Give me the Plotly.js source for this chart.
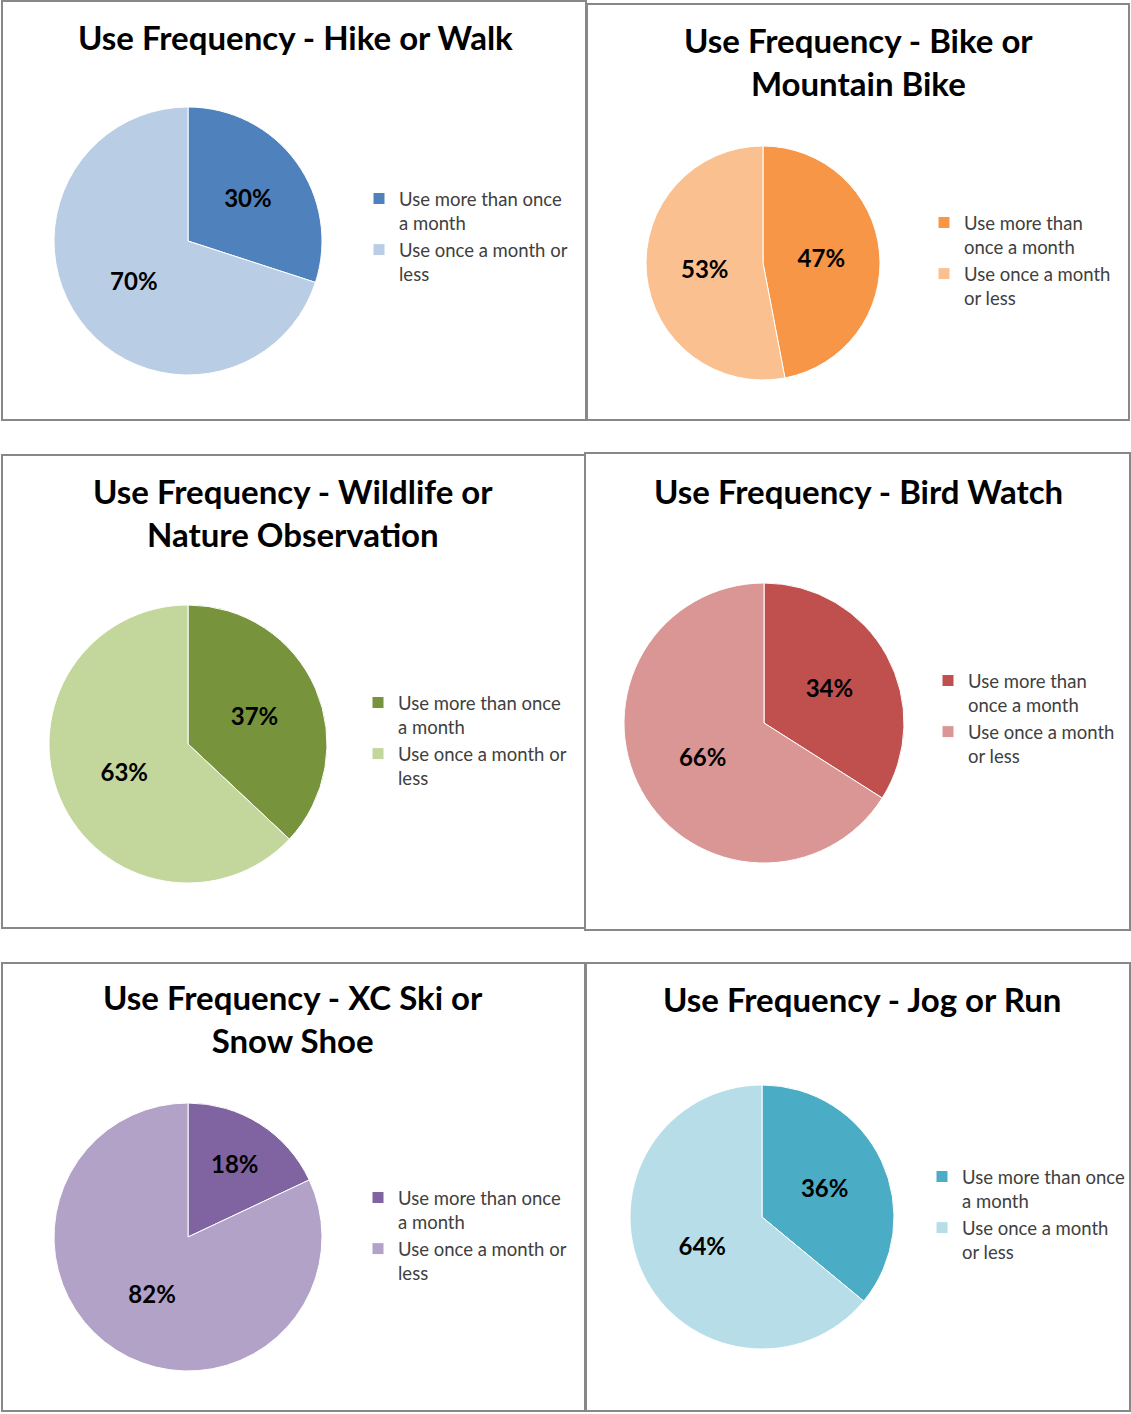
<!DOCTYPE html>
<html>
<head>
<meta charset="utf-8">
<script src="https://cdn.plot.ly/plotly-3.0.1.min.js"></script>
<style>
html,body{margin:0;padding:0;background:#fff;}
#chart{width:1131px;height:1414px;}
</style>
</head>
<body>
<div id="chart"></div>
<script>
// ---- DATA ----
const chartTitles = [
  "Use Frequency - Hike or Walk",
  "Use Frequency - Bike or<br>Mountain Bike",
  "Use Frequency - Wildlife or<br>Nature Observation",
  "Use Frequency - Bird Watch",
  "Use Frequency - XC Ski or<br>Snow Shoe",
  "Use Frequency - Jog or Run"
];
const categories = ["Use more than once a month", "Use once a month or less"];
const moreThanOnce = [30, 47, 37, 34, 18, 36];
const onceOrLess   = [70, 53, 63, 66, 82, 64];
const legendLabels = [
  ["Use more than once<br>a month", "Use once a month or<br>less"],
  ["Use more than<br>once a month", "Use once a month<br>or less"],
  ["Use more than once<br>a month", "Use once a month or<br>less"],
  ["Use more than<br>once a month", "Use once a month<br>or less"],
  ["Use more than once<br>a month", "Use once a month or<br>less"],
  ["Use more than once<br>a month", "Use once a month<br>or less"]
];
const darkColors  = ["#4F81BD", "#F79646", "#77933C", "#C0504D", "#8064A2", "#4BACC6"];
const lightColors = ["#B9CDE5", "#FAC090", "#C3D69B", "#D99694", "#B3A2C7", "#B7DEE8"];

// ---- LAYOUT GEOMETRY (pixels) ----
const W = 1131, H = 1414;
const px = x => x / W;
const py = y => 1 - y / H;
const pies = [
  {cx:188, cy:241, r:134},
  {cx:763, cy:263, r:117},
  {cx:188, cy:744, r:139},
  {cx:764, cy:723, r:140},
  {cx:188, cy:1237, r:134},
  {cx:762, cy:1217, r:132}
];
const boxes = [
  [2,1,586,420],[587,4,1129,420],
  [2,455,585,928],[585,453,1130,930],
  [2,963,585,1411],[586,963,1130,1411]
];
const titlePos = [
  {x:295, y:15}, {x:858, y:18}, {x:293, y:469},
  {x:858, y:469}, {x:293, y:975}, {x:862, y:977}
];
const legendPos = [
  {x:399, y:198}, {x:964, y:222}, {x:398, y:702},
  {x:968, y:680}, {x:398, y:1197}, {x:962, y:1176}
];

const FONT = "Lato, 'Open Sans', sans-serif";
const traces = [];
const layout = {
  width: W, height: H,
  margin: {l:0, r:0, t:0, b:0},
  paper_bgcolor: "#ffffff",
  showlegend: true,
  font: {family: FONT, color: "#404040"},
  shapes: [],
  annotations: []
};

for (let i = 0; i < 6; i++) {
  const p = pies[i];
  const lgKey = i === 0 ? "legend" : "legend" + (i + 1);
  // zero-width suffix keeps each chart's legend entries distinct
  const suffix = "\u200b".repeat(i);
  traces.push({
    type: "pie",
    values: [moreThanOnce[i], onceOrLess[i]],
    labels: legendLabels[i].map(s => s + suffix),
    customdata: categories,
    sort: false,
    direction: "clockwise",
    rotation: 0,
    textinfo: "percent",
    texttemplate: "%{percent:.0%}",
    textposition: "inside",
    insidetextorientation: "horizontal",
    textfont: {family: FONT, size: 24, color: "#000000", weight: "bold"},
    marker: {colors: [darkColors[i], lightColors[i]], line: {color: "#ffffff", width: 1}},
    domain: {x: [px(p.cx - p.r), px(p.cx + p.r)], y: [py(p.cy + p.r), py(p.cy - p.r)]},
    legend: lgKey,
    hovertemplate: "%{customdata}: %{value}%<extra></extra>"
  });
  const lg = legendPos[i];
  layout[lgKey] = {
    x: px(lg.x - 40), y: py(lg.y - 18),
    xanchor: "left", yanchor: "top",
    valign: "top",
    bgcolor: "rgba(0,0,0,0)",
    font: {family: FONT, size: 18.5, color: "#404040"},
    itemwidth: 30,
    tracegroupgap: 0
  };
  const b = boxes[i];
  layout.shapes.push({
    type: "rect", xref: "paper", yref: "paper",
    x0: px(b[0]), x1: px(b[2]), y0: py(b[3]), y1: py(b[1]),
    line: {color: "#888888", width: 2}, fillcolor: "rgba(0,0,0,0)"
  });
  const t = titlePos[i];
  layout.annotations.push({
    xref: "paper", yref: "paper",
    x: px(t.x), y: py(t.y), xanchor: "center", yanchor: "top",
    showarrow: false, text: chartTitles[i],
    font: {family: FONT, size: 33, color: "#000000", weight: "bold"}
  });
}

Plotly.newPlot("chart", traces, layout, {displayModeBar: false, staticPlot: true});
</script>
</body>
</html>
